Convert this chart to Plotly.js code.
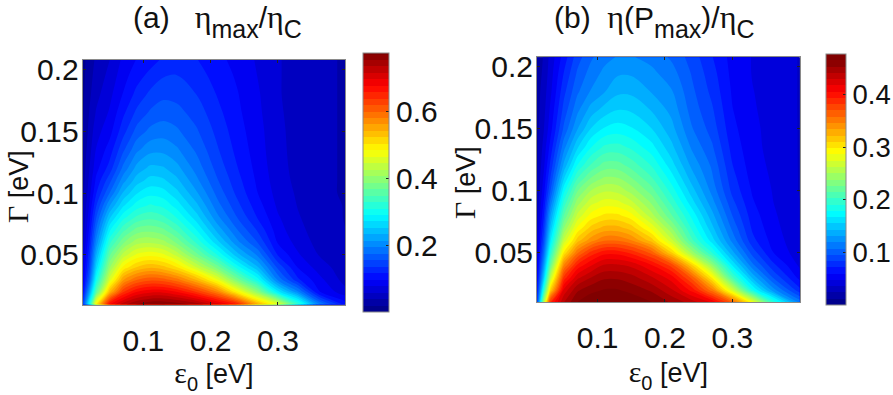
<!DOCTYPE html>
<html><head><meta charset="utf-8">
<script src="https://cdn.plot.ly/plotly-3.0.1.min.js"></script>
<style>html,body{margin:0;padding:0;background:#fff}#c{width:893px;height:395px}</style>
</head><body><div id="c"></div>
<script>
const epsilon0 = [0.01,0.02,0.03,0.05,0.07,0.09,0.11,0.13,0.15,0.18,0.21,0.24,0.27,0.30,0.33,0.36,0.40];
const gammaVals = [0.01,0.02,0.03,0.04,0.05,0.06,0.07,0.08,0.09,0.10,0.11,0.12,0.135,0.15,0.165,0.18,0.195,0.2075];
// one list per epsilon0 value, bottom (small Gamma) to top
const etaMaxColumns = [
[.14,.10,.08,.07,.06,.05,.045,.04,.036,.032,.029,.027,.023,.02,.017,.015,.013,.012],
[.30,.22,.17,.145,.13,.115,.102,.09,.08,.07,.064,.058,.051,.045,.04,.035,.032,.03],
[.50,.36,.30,.26,.23,.20,.177,.155,.134,.115,.102,.09,.079,.07,.06,.052,.046,.042],
[.68,.54,.455,.405,.365,.325,.287,.25,.212,.175,.149,.125,.106,.09,.08,.072,.064,.058],
[.73,.64,.56,.49,.435,.385,.344,.305,.268,.235,.206,.18,.151,.128,.112,.098,.089,.082],
[.76,.68,.60,.525,.47,.42,.377,.335,.30,.27,.243,.22,.189,.162,.14,.122,.108,.098],
[.775,.695,.615,.54,.48,.425,.383,.345,.313,.285,.26,.238,.207,.18,.158,.14,.122,.108],
[.777,.695,.61,.53,.47,.415,.373,.335,.305,.28,.256,.235,.208,.185,.166,.15,.134,.12],
[.77,.68,.59,.505,.44,.385,.345,.31,.282,.258,.238,.22,.197,.178,.162,.148,.136,.127],
[.75,.64,.54,.445,.375,.325,.29,.26,.236,.215,.198,.185,.17,.157,.146,.135,.125,.117],
[.71,.585,.47,.38,.31,.26,.227,.20,.182,.168,.157,.148,.138,.13,.122,.115,.108,.103],
[.66,.49,.38,.30,.24,.20,.175,.155,.141,.13,.123,.117,.11,.105,.101,.098,.094,.09],
[.55,.40,.30,.235,.19,.155,.133,.115,.105,.097,.093,.09,.087,.085,.082,.08,.077,.075],
[.47,.28,.19,.15,.115,.095,.086,.08,.074,.07,.067,.065,.063,.062,.061,.06,.06,.06],
[.33,.20,.12,.095,.08,.07,.064,.06,.057,.055,.053,.052,.052,.052,.051,.05,.05,.05],
[.20,.10,.085,.07,.058,.052,.049,.047,.045,.043,.043,.043,.043,.043,.043,.043,.043,.043],
[.11,.065,.05,.045,.04,.04,.039,.038,.038,.037,.037,.037,.037,.037,.037,.037,.037,.037]
];
const etaAtPmaxColumns = [
[.08,.065,.055,.048,.042,.037,.033,.03,.027,.025,.023,.022,.021,.02,.019,.018,.016,.015],
[.25,.19,.15,.125,.105,.09,.079,.07,.062,.055,.05,.045,.04,.035,.032,.03,.027,.025],
[.39,.31,.26,.22,.19,.165,.146,.13,.112,.095,.084,.075,.064,.055,.05,.045,.042,.04],
[.44,.42,.385,.345,.30,.265,.238,.215,.195,.175,.154,.135,.115,.098,.088,.08,.072,.065],
[.465,.45,.425,.395,.355,.315,.288,.265,.245,.225,.202,.18,.153,.13,.116,.105,.097,.09],
[.474,.46,.44,.415,.385,.34,.313,.29,.27,.25,.227,.205,.178,.155,.136,.12,.112,.105],
[.476,.465,.45,.43,.40,.355,.325,.30,.28,.26,.24,.22,.193,.168,.148,.13,.122,.115],
[.476,.465,.45,.43,.40,.355,.325,.30,.278,.258,.239,.22,.195,.172,.155,.14,.129,.12],
[.474,.46,.445,.425,.39,.345,.315,.29,.266,.245,.227,.21,.188,.168,.153,.14,.129,.12],
[.465,.45,.43,.405,.365,.315,.283,.255,.237,.22,.204,.19,.171,.155,.142,.13,.122,.115],
[.45,.43,.41,.375,.31,.265,.238,.215,.199,.185,.172,.16,.146,.135,.127,.12,.112,.105],
[.435,.40,.365,.31,.245,.205,.188,.175,.16,.148,.137,.128,.117,.108,.102,.098,.094,.09],
[.415,.35,.295,.24,.19,.16,.146,.135,.124,.115,.109,.105,.097,.09,.085,.08,.076,.072],
[.365,.27,.205,.165,.135,.115,.104,.095,.087,.08,.076,.072,.067,.063,.06,.058,.056,.055],
[.285,.18,.14,.11,.09,.075,.069,.065,.061,.058,.055,.053,.051,.05,.049,.048,.047,.047],
[.195,.125,.095,.075,.06,.055,.052,.05,.048,.047,.046,.045,.044,.044,.043,.043,.043,.043],
[.115,.075,.055,.045,.04,.038,.037,.036,.036,.035,.035,.035,.035,.035,.035,.035,.035,.035]
];
const toRows = cols => gammaVals.map((_, j) => cols.map(c => c[j]));
const xTicks = [0.1,0.2,0.3], xTickText = ['0.1','0.2','0.3'];
const yTicks = [0.05,0.1,0.15,0.2], yTickText = ['0.05','0.1','0.15','0.2'];
const barTicksA = [0.2,0.4,0.6], barTicksB = [0.1,0.2,0.3,0.4];
const jet = [[0,'#000080'],[0.125,'#0000ff'],[0.375,'#00ffff'],[0.625,'#ffff00'],[0.875,'#ff0000'],[1,'#800000']];

const W = 893, H = 395, FS = 30, INK = '#111';
const font = {family:'"Liberation Sans", Arial, sans-serif', size:FS, color:INK};
const span = (s,px,serif) => '<span style="font-size:'+px+'px'+(serif?';font-family:\'Liberation Serif\'':'')+'">'+s+'</span>';
const low = (s,px) => '<sub>'+span(s,px)+'</sub>';

function axX(l,r,anchor){return {domain:[l/W,r/W],range:[0.01,0.4],anchor,tickmode:'array',tickvals:xTicks,ticktext:xTickText,
  ticks:'inside',ticklen:3,tickcolor:'#222',ticklabelstandoff:9,linecolor:'#8a8a8a',linewidth:1,mirror:'ticks',showgrid:false,zeroline:false,tickfont:font,
  title:{text:span('ε',30,true)+low('0',20)+span(' [eV]',27),font:{...font,size:40},standoff:0}};}
function axY(t,b,anchor){return {domain:[1-b/H,1-t/H],range:[0.01,0.2075],anchor,tickmode:'array',tickvals:yTicks,ticktext:yTickText,
  ticks:'inside',ticklen:3,tickcolor:'#222',ticklabelstandoff:-3,linecolor:'#8a8a8a',linewidth:1,mirror:'ticks',showgrid:false,zeroline:false,tickfont:font};}
function trace(z,zmax,step,xa,ya,bx,bw,bt,bb,ticks,barFont){return {type:'contour',x:epsilon0,y:gammaVals,z,xaxis:xa,yaxis:ya,
  zmin:0,zmax,autocontour:false,contours:{start:0,end:zmax,size:step,coloring:'fill',showlines:false},line:{width:0,smoothing:1},
  colorscale:jet,colorbar:{x:bx/W,xanchor:'left',xpad:0,ypad:0,y:1-bt/H,yanchor:'top',thickness:bw,thicknessmode:'pixels',len:bb-bt,lenmode:'pixels',
    outlinecolor:'#8a8a8a',outlinewidth:1,tickmode:'array',tickvals:ticks,ticktext:ticks.map(String),ticks:'inside',ticklen:3,tickcolor:'#222',tickfont:{...font,size:barFont}}};}

const data = [
  trace(toRows(etaMaxColumns),0.777,0.0194,'x','y',363.3,25.7,52.7,311.3,barTicksA,30),
  trace(toRows(etaAtPmaxColumns),0.476,0.0119,'x2','y2',826.3,20,54.3,305,barTicksB,27.5)
];
function note(text,x,y,rot,size){return {text,x:x/W,y:1-y/H,xref:'paper',yref:'paper',showarrow:false,xanchor:'center',yanchor:'middle',textangle:rot||0,font:{...font,size}};}
const layout = {width:W,height:H,margin:{l:0,r:0,t:0,b:0,autoexpand:false},paper_bgcolor:'#fff',plot_bgcolor:'#fff',showlegend:false,font,
  xaxis:axX(82.7,345.3,'y'),yaxis:axY(60,304.5,'x'),
  xaxis2:axX(537,799.7,'y2'),yaxis2:axY(57.3,302.3,'x2'),
  annotations:[
    note(span('(a)&nbsp;&nbsp; ',30)+span('η',32,true)+low('max',25)+span('/',30)+span('η',32,true)+low('C',25),217,21,0,46),
    note(span('(b)&nbsp; ',30)+span('η',32,true)+span('(P',30)+low('max',25)+span(')/',30)+span('η',32,true)+low('C',25),654,21,0,46),
    note(span('Γ',30,true)+' [eV]',17,187,-90,27),
    note(span('Γ',30,true)+' [eV]',464,183,-90,27)
  ]};
Plotly.newPlot('c',data,layout,{staticPlot:true,displayModeBar:false});
</script></body></html>
